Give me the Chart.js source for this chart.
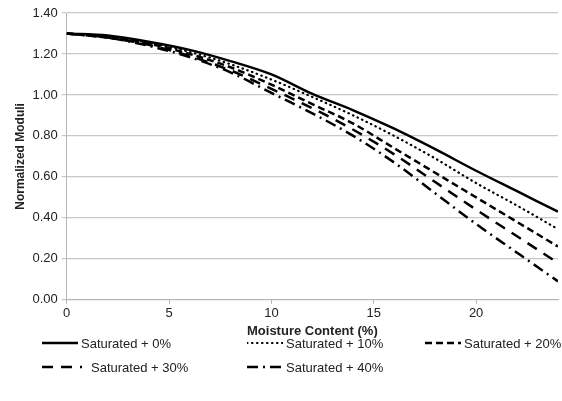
<!DOCTYPE html>
<html>
<head>
<meta charset="utf-8">
<script src="https://cdn.jsdelivr.net/npm/chart.js@4/dist/chart.umd.min.js"></script>
<style>
  body { margin: 0; background: #fff; font-family: "Liberation Sans", Arial, sans-serif; }
  #wrap { position: relative; width: 562px; height: 401px; }
  #chart-box { position: absolute; left: 0; top: 0; width: 562px; height: 339px; }
  .item { position: absolute; display: flex; align-items: center; font-size: 13px; color: #222; white-space: nowrap; }
  .item svg { margin-right: 3px; }
</style>
</head>
<body>
<div id="wrap">
  <div id="chart-box"><canvas id="chart"></canvas></div>
  <div id="legend"></div>
</div>
<script>
// Data
const moisture = [0, 2, 4, 6, 8, 10, 12, 14, 16, 18, 20, 22, 24];
const sat0  = [1.30, 1.29, 1.26, 1.22, 1.165, 1.10, 1.005, 0.925, 0.835, 0.735, 0.63, 0.53, 0.43];
const sat10 = [1.30, 1.285, 1.255, 1.21, 1.15, 1.075, 0.99, 0.90, 0.80, 0.69, 0.57, 0.46, 0.345];
const sat20 = [1.30, 1.28, 1.25, 1.20, 1.135, 1.05, 0.955, 0.86, 0.74, 0.62, 0.50, 0.38, 0.26];
const sat30 = [1.30, 1.28, 1.245, 1.19, 1.12, 1.03, 0.935, 0.83, 0.71, 0.575, 0.44, 0.31, 0.18];
const sat40 = [1.30, 1.28, 1.24, 1.185, 1.11, 1.01, 0.91, 0.80, 0.67, 0.52, 0.37, 0.23, 0.09];
const seriesNames = ["Saturated + 0%", "Saturated + 10%", "Saturated + 20%", "Saturated + 30%", "Saturated + 40%"];
const yTicks = [0, 0.2, 0.4, 0.6, 0.8, 1.0, 1.2, 1.4];
const xTicks = [0, 5, 10, 15, 20];

const allSeries = [sat0, sat10, sat20, sat30, sat40];
const dashes = [[], [0.5, 4.5], [7, 4], [11, 8], [11, 5, 2, 5]];
const caps = ["butt", "round", "butt", "butt", "butt"];
const widths = [2.5, 2.2, 2.5, 2.5, 2.5];

const datasets = allSeries.map((vals, i) => ({
  label: seriesNames[i],
  data: vals.map((v, j) => ({ x: moisture[j], y: v })),
  borderColor: "#000",
  borderWidth: widths[i],
  borderDash: dashes[i],
  borderCapStyle: caps[i],
  pointRadius: 0,
  fill: false,
  cubicInterpolationMode: "monotone"
}));

const ctx = document.getElementById("chart").getContext("2d");
new Chart(ctx, {
  type: "line",
  data: { datasets },
  options: {
    responsive: true,
    maintainAspectRatio: false,
    animation: false,
    layout: { padding: { top: 13, right: 4, left: 13, bottom: 0 } },
    plugins: { legend: { display: false }, tooltip: { enabled: false } },
    scales: {
      x: {
        type: "linear",
        min: 0,
        max: 24,
        afterBuildTicks: axis => { axis.ticks = xTicks.map(v => ({ value: v })); },
        ticks: { color: "#222", font: { size: 13, family: "Liberation Sans" }, padding: 2 },
        grid: { drawOnChartArea: false, drawTicks: true, tickLength: 4, color: "#b5b5b5" },
        border: { color: "#b5b5b5", width: 1 },
        title: { display: true, text: "Moisture Content (%)", color: "#222", font: { size: 13, weight: "bold", family: "Liberation Sans" }, padding: { top: 0, bottom: 0 } }
      },
      y: {
        min: 0,
        max: 1.4,
        afterBuildTicks: axis => { axis.ticks = yTicks.map(v => ({ value: v })); },
        ticks: { color: "#222", font: { size: 13, family: "Liberation Sans" }, padding: 4, callback: v => v.toFixed(2) },
        grid: { color: "#c8c8c8", lineWidth: 1.2, tickLength: 5 },
        border: { color: "#b5b5b5", width: 1 },
        title: { display: true, text: "Normalized Moduli", color: "#222", font: { size: 12, weight: "bold", family: "Liberation Sans" }, padding: { top: 0, bottom: 1 } }
      }
    }
  }
});

// Legend (grid laid out like the original)
const legendPos = [[42, 343], [247, 343], [425, 343], [42, 367], [247, 367]];
const sampleW = [36, 36, 36, 40, 36];
const legend = document.getElementById("legend");
seriesNames.forEach((name, i) => {
  const item = document.createElement("div");
  item.className = "item";
  item.style.left = legendPos[i][0] + "px";
  item.style.top = (legendPos[i][1] - 9) + "px";
  const w = sampleW[i];
  const dash = dashes[i].length ? `stroke-dasharray="${dashes[i].join(" ")}"` : "";
  item.innerHTML = `<svg width="${w}" height="18"><line x1="0" y1="9" x2="${w}" y2="9" stroke="#000" stroke-width="${widths[i]}" stroke-linecap="${caps[i]}" ${dash}/></svg><span style="margin-left:${i === 3 ? 6 : 0}px">${name}</span>`;
  legend.appendChild(item);
});
</script>
</body>
</html>
